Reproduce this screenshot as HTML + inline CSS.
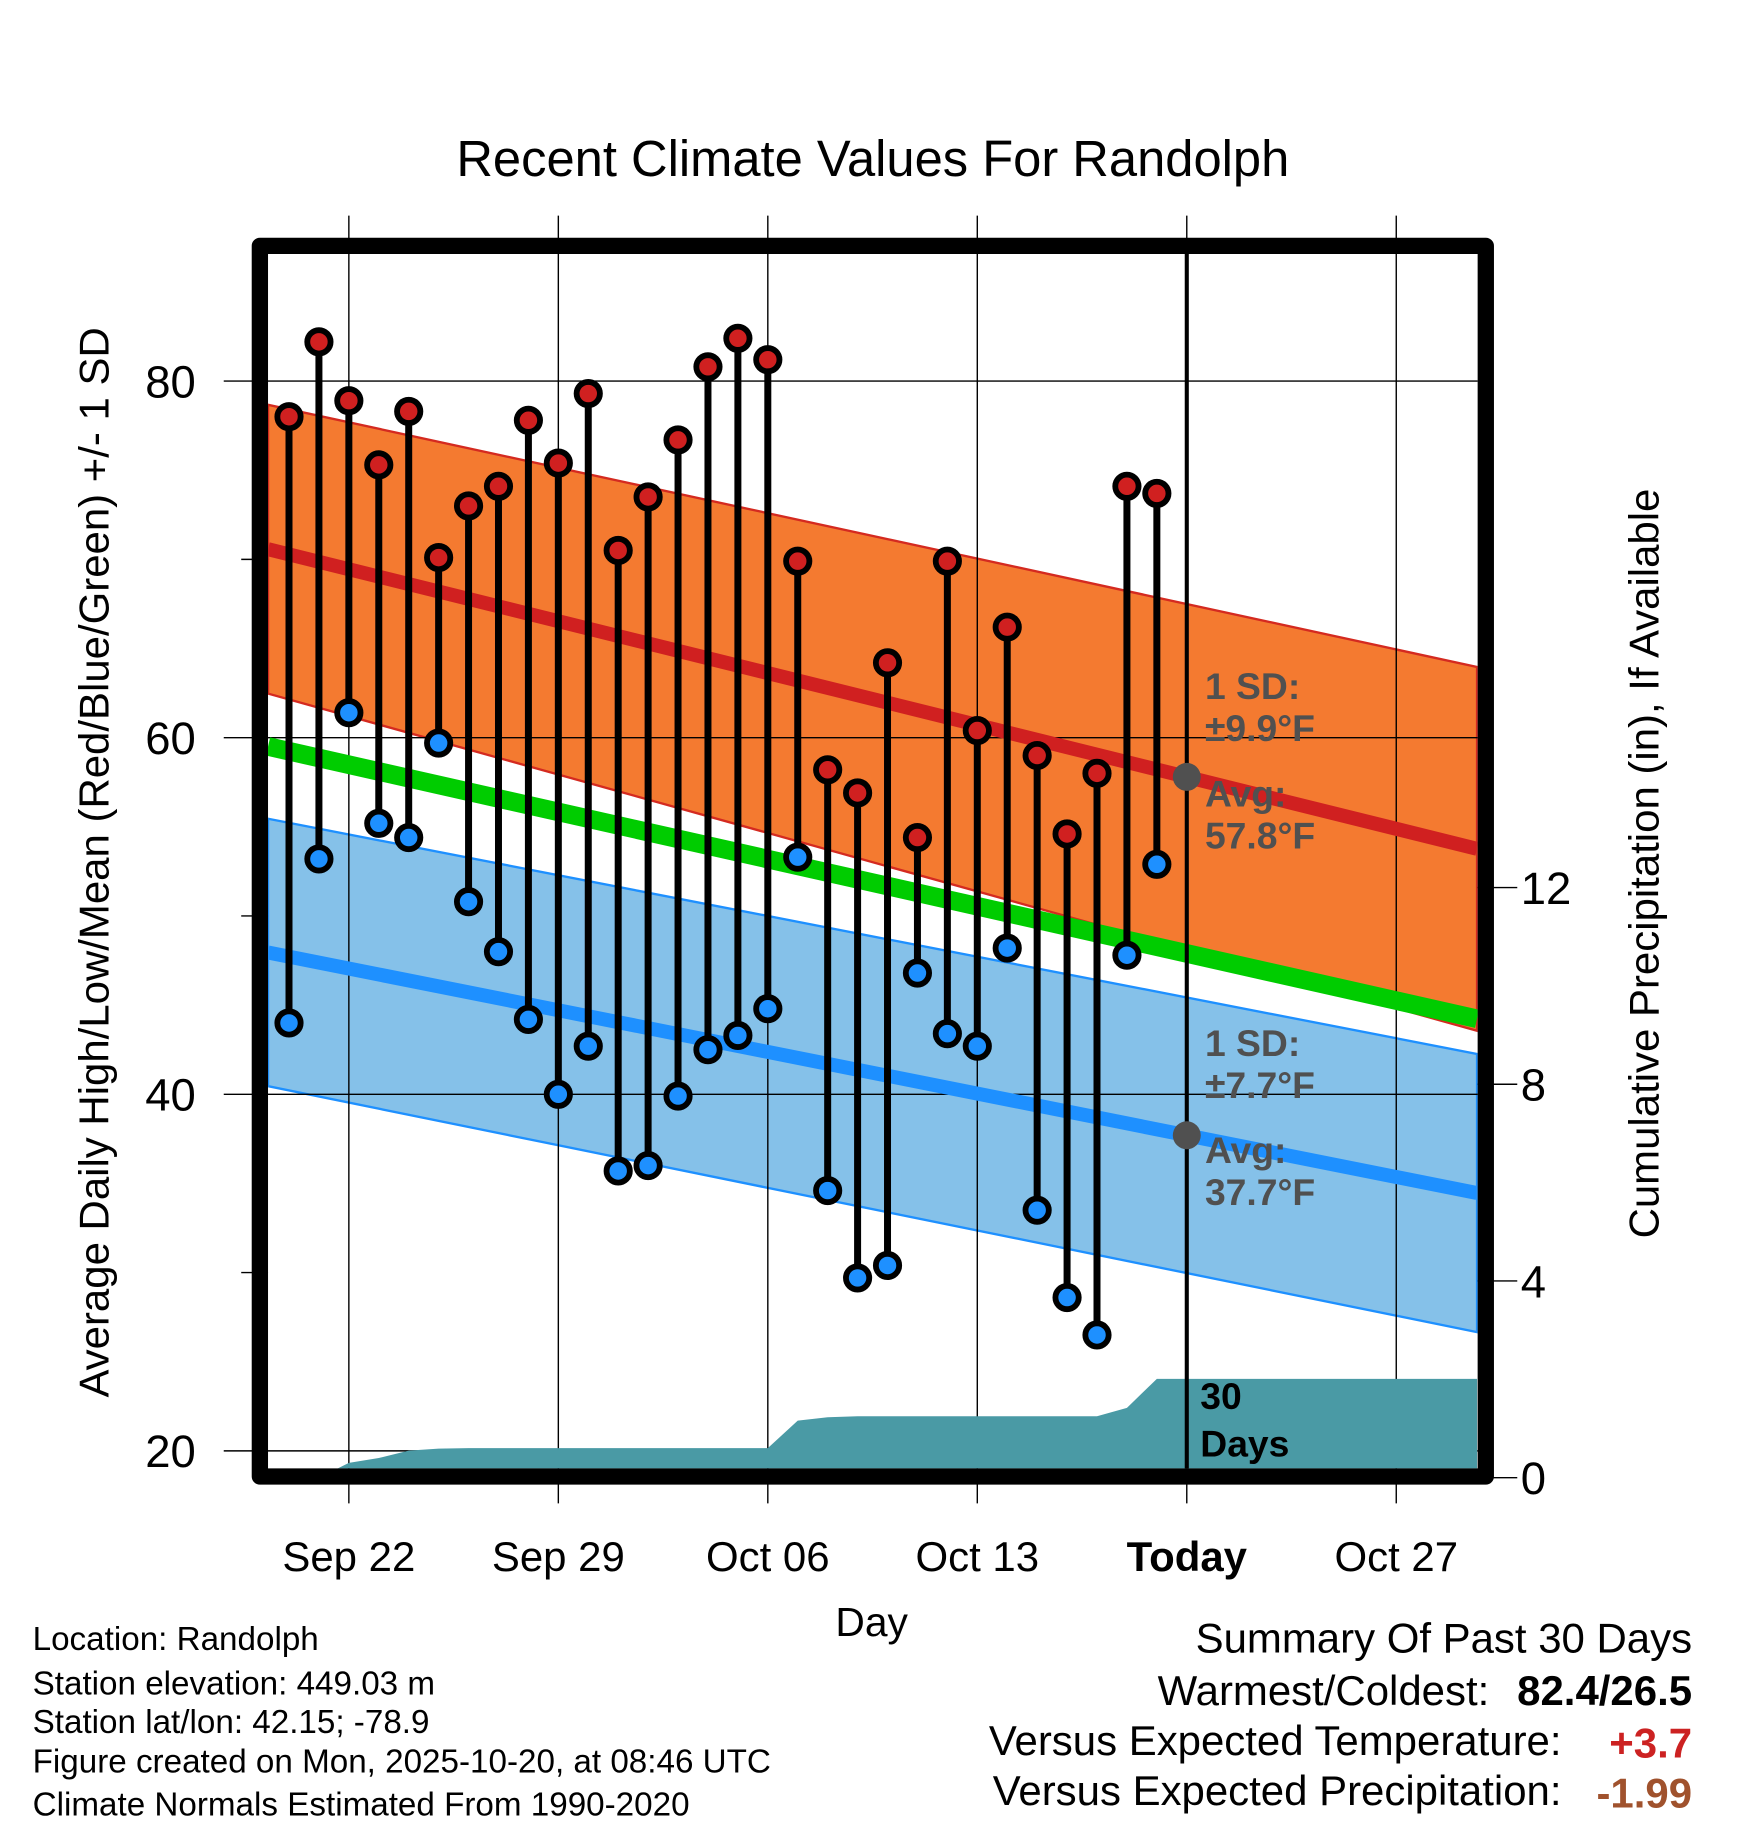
<!DOCTYPE html>
<html><head><meta charset="utf-8"><style>
html,body{margin:0;padding:0;background:#fff;}
svg{display:block;font-family:"Liberation Sans",Arial,sans-serif;}
</style></head><body>
<svg id="chart" width="1748" height="1828" viewBox="0 0 1500 1568.6" preserveAspectRatio="none" xmlns="http://www.w3.org/2000/svg">
<defs><clipPath id="plotclip"><rect x="230" y="218" width="1038" height="1042"/></clipPath></defs>
<g id="bands" clip-path="url(#plotclip)"></g>
<g id="grid"></g>
<g id="means" clip-path="url(#plotclip)"></g>
<g id="precip" clip-path="url(#plotclip)"></g>
<g id="marks"></g>
<g id="frame"></g>
<g id="texts"></g>
</svg>
<script>
// ---- data ----
const dayLabels = ["Sep 20","Sep 21","Sep 22","Sep 23","Sep 24","Sep 25","Sep 26","Sep 27","Sep 28","Sep 29","Sep 30","Oct 01","Oct 02","Oct 03","Oct 04","Oct 05","Oct 06","Oct 07","Oct 08","Oct 09","Oct 10","Oct 11","Oct 12","Oct 13","Oct 14","Oct 15","Oct 16","Oct 17","Oct 18","Oct 19"];
const highs = [78.0,82.2,78.9,75.3,78.3,70.1,73.0,74.1,77.8,75.4,79.3,70.5,73.5,76.7,80.8,82.4,81.2,69.9,58.2,56.9,64.2,54.4,69.9,60.4,66.2,59.0,54.6,58.0,74.1,73.7];
const lows = [44.0,53.2,61.4,55.2,54.4,59.7,50.8,48.0,44.2,40.0,42.7,35.7,36.0,39.9,42.5,43.3,44.8,53.3,34.6,29.7,30.4,46.8,43.4,42.7,48.2,33.5,28.6,26.5,47.8,52.9];
const precip = [0.0,0.0,0.3,0.4,0.55,0.59,0.6,0.6,0.6,0.6,0.6,0.6,0.6,0.6,0.6,0.6,0.6,1.16,1.23,1.25,1.25,1.25,1.25,1.25,1.25,1.25,1.25,1.25,1.42,2.01,2.01];
const normHighToday = [57.8];
const normLowToday = [37.7];
const normMeanToday = [47.9];
const sdHighEnds = [8.1, 10.2];
const sdLowEnds = [7.5, 7.8];
const normSlopeHigh = [-0.416];
const normSlopeLow = [-0.334];
const normSlopeMean = [-0.378];
const xTickLabels = ["Sep 22","Sep 29","Oct 06","Oct 13","Today","Oct 27"];
const xTickDays = [2,9,16,23,30,37];
const yTicks = [20,40,60,80];
const yMinor = [30,50,70];
const y2Ticks = [0,4,8,12];

// ---- axes ----
const X = d => 248 + d*25.68;
const Y = t => 633 - (t-60)*15.3;
const Y2 = p => 1268 - p*42.2;
const NS = "http://www.w3.org/2000/svg";
function mk(tag, parent, attrs){const e=document.createElementNS(NS,tag);for(const k in attrs)e.setAttribute(k,attrs[k]);document.getElementById(parent).appendChild(e);return e;}
const d0=-0.7, d1=39.7, today=30;
const hN = d => normHighToday[0] + (d-today)*normSlopeHigh[0];
const lN = d => normLowToday[0] + (d-today)*normSlopeLow[0];
const mN = d => normMeanToday[0] + (d-today)*normSlopeMean[0];

// bands
let e;
e=mk('polygon','bands',{points:`${X(d0)},${Y(hN(d0)+sdHighEnds[0])} ${X(d1)},${Y(hN(d1)+sdHighEnds[1])} ${X(d1)},${Y(hN(d1)-sdHighEnds[1])} ${X(d0)},${Y(hN(d0)-sdHighEnds[0])}`,fill:'#f47a30',stroke:'#d42a20','stroke-width':2});


e=mk('polygon','bands',{points:`${X(d0)},${Y(lN(d0)+sdLowEnds[0])} ${X(d1)},${Y(lN(d1)+sdLowEnds[1])} ${X(d1)},${Y(lN(d1)-sdLowEnds[1])} ${X(d0)},${Y(lN(d0)-sdLowEnds[0])}`,fill:'#85c1e9',stroke:'#1e90ff','stroke-width':2});



// grid
xTickDays.forEach((d,i)=>{
  const g=mk('line','grid',{x1:X(d),x2:X(d),y1:185,y2:1290,stroke:'#000','stroke-width':1.2});
  
  
  const t=mk('text','texts',{x:X(d),y:1348,'font-size':36,'text-anchor':'middle','font-weight':xTickLabels[i]==='Today'?'bold':'normal'});
  t.textContent=xTickLabels[i];
  
  
});
yTicks.forEach(v=>{
  const g=mk('line','grid',{x1:192,x2:1268,y1:Y(v),y2:Y(v),stroke:'#000','stroke-width':1.2});
  
  
  const t=mk('text','texts',{x:168,y:Y(v)+14,'font-size':39,'text-anchor':'end'});
  t.textContent=v;
  
  
});
yMinor.forEach(v=>{
  const g=mk('line','grid',{x1:207,x2:230,y1:Y(v),y2:Y(v),stroke:'#000','stroke-width':1.2});
  
  
});
y2Ticks.forEach(v=>{
  const g=mk('line','grid',{x1:1268,x2:1302,y1:Y2(v),y2:Y2(v),stroke:'#000','stroke-width':1.2});
  
  
  const t=mk('text','texts',{x:1305,y:Y2(v)+14,'font-size':39});
  t.textContent=v;
  
  
});

// mean lines
e=mk('line','means',{x1:X(d0),x2:X(d1),y1:Y(hN(d0)),y2:Y(hN(d1)),stroke:'#d02020','stroke-width':12});


e=mk('line','means',{x1:X(d0),x2:X(d1),y1:Y(lN(d0)),y2:Y(lN(d1)),stroke:'#1e90ff','stroke-width':12});


e=mk('line','means',{x1:X(d0),x2:X(d1),y1:Y(mN(d0)),y2:Y(mN(d1)),stroke:'#00cc00','stroke-width':16});



// precip area
let pts=[];
precip.forEach((p,i)=>pts.push(`${X(i)},${Y2(p)}`));
pts.push(`${X(d1)},${Y2(precip[precip.length-1])}`);
pts.push(`${X(d1)},1270`);pts.push(`${X(0)},1270`);
e=mk('polygon','precip',{points:pts.join(' '),fill:'#4a9aa5'});



// today line
e=mk('line','marks',{x1:X(today),x2:X(today),y1:218,y2:1260,stroke:'#000','stroke-width':3.5});



// stems and markers
highs.forEach((h,i)=>{
  const s=mk('line','marks',{x1:X(i),x2:X(i),y1:Y(h),y2:Y(lows[i]),stroke:'#000','stroke-width':6});
  
  
});
highs.forEach((h,i)=>{
  const c=mk('circle','marks',{cx:X(i),cy:Y(h),r:10,fill:'#d02020',stroke:'#000','stroke-width':5});
  
  
  const c2=mk('circle','marks',{cx:X(i),cy:Y(lows[i]),r:10,fill:'#1e90ff',stroke:'#000','stroke-width':5});
  
  
});
e=mk('circle','marks',{cx:X(today),cy:Y(normHighToday[0]),r:12,fill:'#505050'});


e=mk('circle','marks',{cx:X(today),cy:Y(normLowToday[0]),r:12,fill:'#505050'});



// frame
e=mk('rect','frame',{x:223,y:211,width:1052,height:1056,fill:'none',stroke:'#000','stroke-width':14,'stroke-linejoin':'round'});


</script>
<script>
// static texts
(function(){
const NS="http://www.w3.org/2000/svg";
function T(name,x,y,size,txt,opts){const t=document.createElementNS(NS,'text');t.setAttribute('x',x);t.setAttribute('y',y);t.setAttribute('font-size',size);
 if(opts)for(const k in opts)t.setAttribute(k,opts[k]);t.textContent=txt;
 
 
 document.getElementById('texts').appendChild(t);return t;}
T('chart-title',749,151,43.5,'Recent Climate Values For Randolph',{'text-anchor':'middle'});
T('y-axis-title',0,0,36,'Average Daily High/Low/Mean (Red/Blue/Green) +/- 1 SD',{'text-anchor':'middle',transform:'translate(93,740) rotate(-90)'});
T('y2-axis-title',0,0,36,'Cumulative Precipitation (in), If Available',{'text-anchor':'middle',transform:'translate(1423,741) rotate(-90)'});
T('x-axis-title',748,1404,35,'Day',{'text-anchor':'middle'});
const g={fill:'#505050','font-weight':'bold'};
T('high-sd-label',1034,600,32,'1 SD:',g);
T('high-sd-value',1034,636,32,'±9.9°F',g);
T('high-avg-label',1034,692,32,'Avg:',g);
T('high-avg-value',1034,728,32,'57.8°F',g);
T('low-sd-label',1034,906,32,'1 SD:',g);
T('low-sd-value',1034,942,32,'±7.7°F',g);
T('low-avg-label',1034,998,32,'Avg:',g);
T('low-avg-value',1034,1034,32,'37.7°F',g);
T('days-label',1030,1209,32,'30',{'font-weight':'bold'});
T('days-label-2',1030,1250,32,'Days',{'font-weight':'bold'});
T('location-info',28,1416,28.5,'Location: Randolph');
T('elevation-info',28,1454,28.5,'Station elevation: 449.03 m');
T('latlon-info',28,1487,28.5,'Station lat/lon: 42.15; -78.9');
T('created-info',28,1521,28.5,'Figure created on Mon, 2025-10-20, at 08:46 UTC');
T('normals-info',28,1558,28.5,'Climate Normals Estimated From 1990-2020');
T('summary-title',1452,1418,36,'Summary Of Past 30 Days',{'text-anchor':'end'});
T('warm-cold-label',1278,1463,36,'Warmest/Coldest:',{'text-anchor':'end'});
T('warm-cold-value',1452,1463,36,'82.4/26.5',{'text-anchor':'end','font-weight':'bold'});
T('temp-anom-label',1340,1506,36,'Versus Expected Temperature:',{'text-anchor':'end'});
T('temp-anom-value',1452,1508,36,'+3.7',{'text-anchor':'end','font-weight':'bold',fill:'#cc2222'});
T('precip-anom-label',1340,1549,36,'Versus Expected Precipitation:',{'text-anchor':'end'});
T('precip-anom-value',1452,1551,36,'-1.99',{'text-anchor':'end','font-weight':'bold',fill:'#a0522d'});
})();
</script>
</body></html>
